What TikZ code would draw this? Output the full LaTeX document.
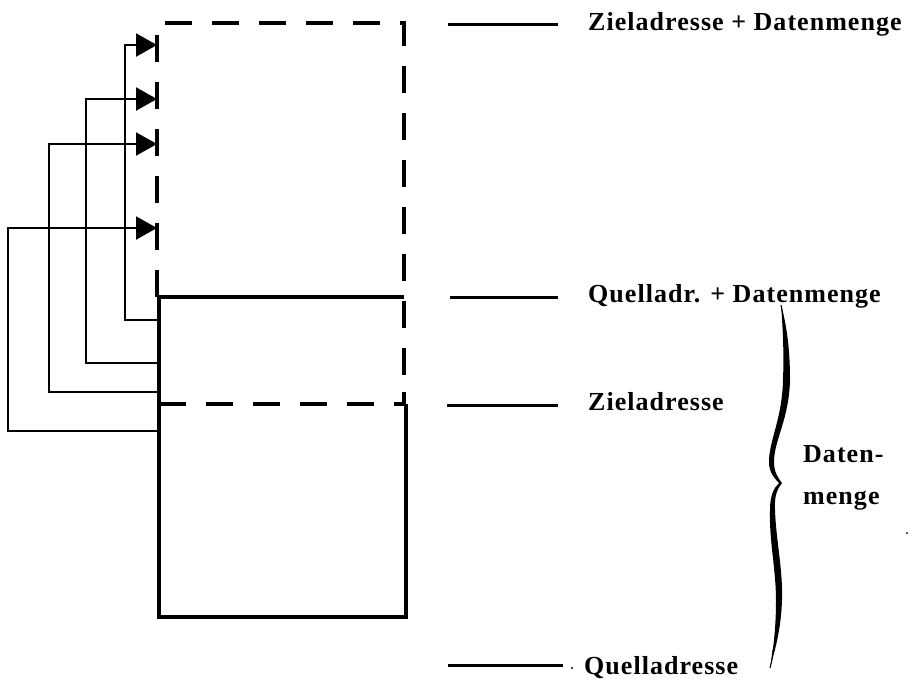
\documentclass[tikz,border=0pt]{standalone}
\usepackage{fontspec}
\setmainfont{Liberation Serif}
\newfontfamily\lblfont{Liberation Serif}[LetterSpace=4]
\usetikzlibrary{arrows.meta}
\begin{document}
\begin{tikzpicture}[x=1pt,y=-1pt,
  boxline/.style={line width=3.2pt},
  dashline/.style={line width=3.2pt,dash pattern=on 27pt off 20pt},
  loopline/.style={line width=2.2pt,-{Triangle[length=21pt,width=23pt]}},
  tick/.style={line width=3pt},
  lbl/.style={font=\lblfont\bfseries\fontsize{26}{30}\selectfont,anchor=base west,inner sep=0pt}]
\useasboundingbox (0,0) rectangle (916,681);
% box corners
\coordinate (tl) at (157,23);
\coordinate (tr) at (404,23);
\coordinate (ml) at (157,297);
\coordinate (mr) at (404,297);
\coordinate (sl) at (159,297);
\coordinate (zl) at (159,404);
\coordinate (zr) at (406,404);
\coordinate (dr) at (404,404);
\coordinate (bl) at (159,617);
\coordinate (br) at (406,617);
% dashed part
\draw[dashline] (ml) -- (tl) -- (tr) -- (dr);
\draw[dashline] (zl) -- (zr);
% solid part
\draw[boxline] (sl) -- (mr);
\draw[boxline] (sl) -- (bl) -- (br) -- (zr);
\draw[line width=3.2pt] (404,392) -- (404,404);
% loops
\foreach \i/\sy/\kx/\ty in {1/320/125/45, 2/363/86/99, 3/392/49/144, 4/431/8/228}{
  \coordinate (s\i) at (159,\sy);
  \coordinate (k\i) at (\kx,\ty);
  \coordinate (t\i) at (157,\ty);
  \draw[loopline] (s\i) -| (k\i) -- (t\i);
}
% label ticks and texts
\coordinate (a1) at (448,24);  \coordinate (b1) at (558,24);
\coordinate (a2) at (450,297); \coordinate (b2) at (558,297);
\coordinate (a3) at (447,405); \coordinate (b3) at (558,405);
\coordinate (a4) at (448,665); \coordinate (b4) at (563,665);
\draw[tick] (a1) -- (b1);
\draw[tick] (a2) -- (b2);
\draw[tick] (a3) -- (b3);
\draw[tick] (a4) -- (b4);
\node[lbl] (l1) at (588,30) {Zieladresse + Datenmenge};
\node[lbl] (l2) at (588,302) {Quelladr. + Datenmenge};
\node[lbl] (l3) at (588,410) {Zieladresse};
\node[lbl] (l4) at (584,674) {Quelladresse};
\node[lbl] (d1) at (803,462) {Daten-};
\node[lbl] (d2) at (803,504) {menge};
% brace
\fill (781,305)
 .. controls (788,330) and (790,355) .. (790,380)
 .. controls (789,420) and (774,440) .. (774,462)
 .. controls (774,472) and (778,478) .. (782,483)
 .. controls (778,488) and (774,495) .. (775,510)
 .. controls (776,540) and (783,570) .. (782,600)
 .. controls (781,630) and (775,650) .. (770,668)
 .. controls (773,650) and (776,630) .. (776,600)
 .. controls (776,570) and (769,540) .. (770,510)
 .. controls (770,495) and (774,488) .. (779,483)
 .. controls (774,478) and (769,472) .. (769,462)
 .. controls (769,440) and (782,420) .. (783,380)
 .. controls (784,355) and (783,330) .. (781,305) -- cycle;
\draw[line width=1pt] (781,305) .. controls (784,320) .. (785,340);
\draw[line width=1pt] (773,650) .. controls (772,660) .. (770,668);
% specks
\fill (572,668) circle (1.2pt);
\fill (907,533) circle (1pt);
\end{tikzpicture}
\end{document}
